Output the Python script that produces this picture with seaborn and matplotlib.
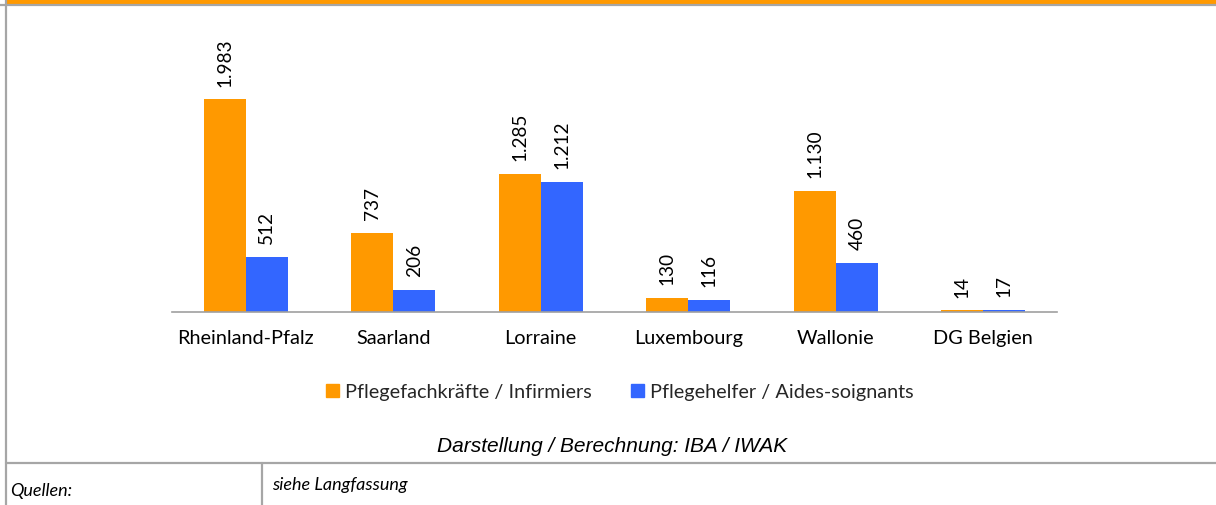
import matplotlib
matplotlib.use("Agg")
import matplotlib.pyplot as plt
import seaborn as sns
import pandas as pd
from matplotlib.patches import Rectangle
from matplotlib.lines import Line2D

regions = ["Rheinland-Pfalz", "Saarland", "Lorraine", "Luxembourg", "Wallonie", "DG Belgien"]
series_names = ["Pflegefachkräfte / Infirmiers", "Pflegehelfer / Aides-soignants"]
fachkraefte = [1983, 737, 1285, 130, 1130, 14]
helfer = [512, 206, 1212, 116, 460, 17]
colors = ["#FF9900", "#3366FF"]

df = pd.DataFrame({
    "Region": regions * 2,
    "Serie": [series_names[0]] * len(regions) + [series_names[1]] * len(regions),
    "Wert": fachkraefte + helfer,
})

sns.set_theme(style="white")
plt.rcParams["font.family"] = ["Lato", "DejaVu Sans"]

W, H = 1216, 506
fig = plt.figure(figsize=(W / 100, H / 100), dpi=100)
ax = fig.add_axes([172 / W, (H - 313) / H, 885 / W, 268 / H])

sns.barplot(data=df, x="Region", y="Wert", hue="Serie", order=regions,
            hue_order=series_names, palette=colors, width=0.57, gap=0,
            saturation=1, ax=ax, legend=False, linewidth=0)

ax.set_xlim(-0.5, len(regions) - 0.5)
ax.set_ylim(0, 2500)
ax.set_xlabel("")
ax.set_ylabel("")
ax.set_yticks([])
for s in ["top", "right", "left"]:
    ax.spines[s].set_visible(False)
ax.spines["bottom"].set_color("#A0A0A0")
ax.spines["bottom"].set_linewidth(1.2)
ax.set_xticks(range(len(regions)))
ax.set_xticklabels(regions, fontsize=14.3, color="#000000")
ax.tick_params(axis="x", which="major", length=0, pad=12)
ax.set_xticks([i - 0.5 for i in range(len(regions) + 1)], minor=True)
ax.tick_params(axis="x", which="minor", length=6, width=1.2, color="#A0A0A0", direction="out")

def fmt(v):
    return f"{v:,}".replace(",", ".")

for cont in ax.containers:
    for bar in cont:
        h = bar.get_height()
        ax.annotate(fmt(int(round(h))), (bar.get_x() + bar.get_width() / 2, h),
                    xytext=(0, 10), textcoords="offset points",
                    rotation=90, ha="center", va="bottom", fontsize=13.7,
                    color="#000000", annotation_clip=False)

handles = [Rectangle((0, 0), 1, 1, color=c) for c in colors]
fig.legend(handles, series_names, loc="center", ncol=2,
           bbox_to_anchor=(620 / W, 1 - 393 / H), frameon=False,
           fontsize=14.3, handlelength=0.65, handleheight=0.65,
           handletextpad=0.3, columnspacing=2.0)

fig.text(612 / W, 1 - 447 / H, "Darstellung / Berechnung: IBA / IWAK",
         ha="center", va="center", fontsize=15, style="italic",
         family=["Liberation Sans", "DejaVu Sans"], color="#000000")
fig.text(10 / W, 1 - 491 / H, "Quellen:", ha="left", va="center",
         fontsize=13, style="italic", color="#000000")
fig.text(272 / W, 1 - 485 / H, "siehe Langfassung", ha="left", va="center",
         fontsize=13, style="italic", color="#000000")

gray = "#A6A6A6"
fig.patches.append(Rectangle((7 / W, 1 - 5 / H), 1 - 7 / W, 5 / H,
                             transform=fig.transFigure, color="#FF9900", zorder=5))
fig.lines.append(Line2D([0, 1], [1 - 6 / H, 1 - 6 / H], transform=fig.transFigure,
                        color=gray, linewidth=1.6, zorder=6))
fig.lines.append(Line2D([6 / W, 6 / W], [0, 1], transform=fig.transFigure,
                        color=gray, linewidth=1.6, zorder=6))
fig.lines.append(Line2D([6 / W, 1], [1 - 464 / H, 1 - 464 / H], transform=fig.transFigure,
                        color=gray, linewidth=1.6, zorder=6))
fig.lines.append(Line2D([262 / W, 262 / W], [0, 1 - 464 / H], transform=fig.transFigure,
                        color=gray, linewidth=1.6, zorder=6))

fig.savefig("out.png", dpi=100)
